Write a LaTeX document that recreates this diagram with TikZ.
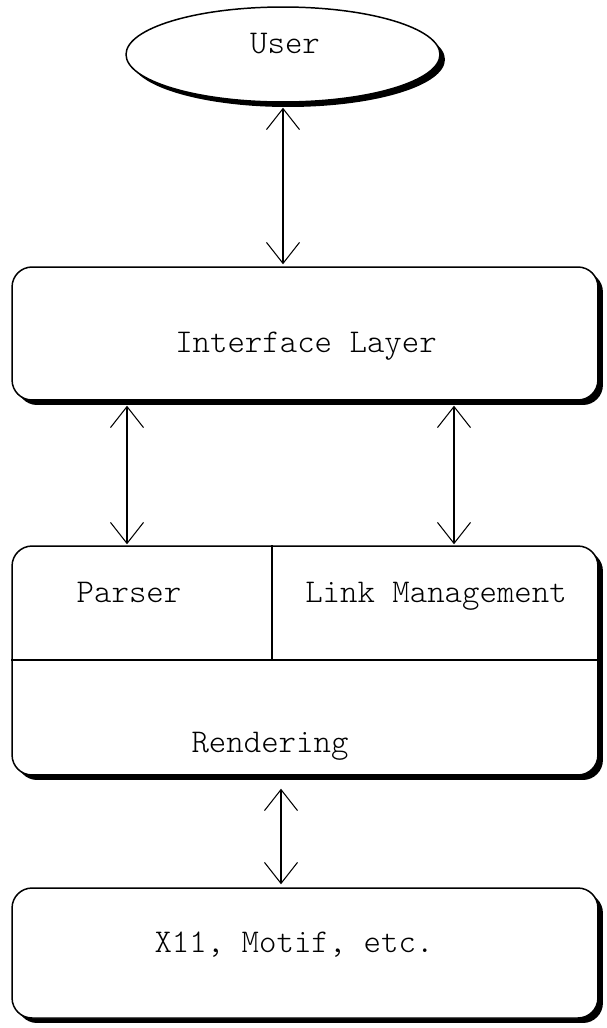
\documentclass[tikz,border=0pt]{standalone}
\usepackage{fontspec}
\usetikzlibrary{shapes.geometric,shadows,arrows.meta,calc}

\begin{document}
\begin{tikzpicture}[x=0.02cm,y=-0.02cm,
    txt/.style={font=\ttfamily\fontseries{l}\fontsize{18.9}{22}\selectfont,anchor=base},
    shade/.style={drop shadow={shadow xshift=0.1cm,shadow yshift=-0.1cm,fill=black,opacity=1}},
    box/.style={draw,line width=0.85pt,rounded corners=0.4cm,fill=white,
      minimum width=11.72cm,inner sep=0pt,shade},
    oval/.style={draw,ellipse,line width=0.85pt,fill=white,inner sep=0pt,
      minimum width=6.28cm,minimum height=1.9cm,shade},
    biarrow/.style={{Straight Barb[length=0.42cm,width=0.66cm]}-{Straight Barb[length=0.42cm,width=0.66cm]},line width=0.6pt}]

    \useasboundingbox (0,0) rectangle (607,1028);

    % User
    \node[oval] (user) at (283,54.5) {};
    \node[txt] (usertxt) at (285,53) {User};

    % Interface layer
    \node[box,minimum height=2.66cm] (iface) at (305,333.5) {};
    \node[txt] (ifacetxt) at (306,352) {Interface Layer};

    % Core: parser, link management, rendering
    \node[box,minimum height=4.58cm] (core) at (305,660.5) {};
    \coordinate (split) at (272,660);
    \draw[line width=0.85pt] (core.west |- split) -- (core.east |- split);
    \draw[line width=0.85pt] (split) -- (split |- core.north);
    \node[txt] (parser) at (129,602) {Parser};
    \node[txt] (link) at (436,602) {Link Management};
    \node[txt] (render) at (270,752) {Rendering};

    % Toolkit
    \node[box,minimum height=2.6cm] (base) at (305,953) {};
    \node[txt] (basetxt) at (294,952) {X11, Motif, etc.};

    % Arrows
    \draw[biarrow] ($(user.south)+(0,5)$) -- ($(user.south |- iface.north)+(0,-2)$);
    \draw[biarrow] ($(iface.south -| parser)+(-2,5)$) -- ($(core.north -| parser)+(-2,-1)$);
    \draw[biarrow] ($(iface.south -| link)+(18,5)$) -- ($(core.north -| link)+(18,-1)$);
    \draw[biarrow] ($(core.south)+(-24,13)$) -- ($(base.north)+(-24,-3)$);
\end{tikzpicture}
\end{document}
